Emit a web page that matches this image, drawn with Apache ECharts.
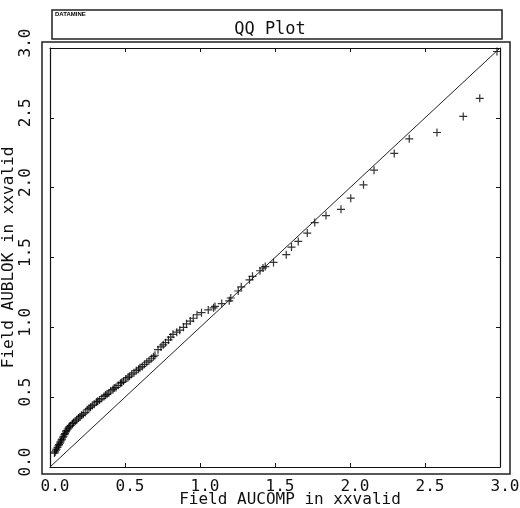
<!DOCTYPE html>
<html>
<head>
<meta charset="utf-8">
<script src="https://cdn.jsdelivr.net/npm/echarts@6/dist/echarts.min.js"></script>
<style>
  html, body { margin: 0; padding: 0; background: #fff; }
  #qqPlot { width: 520px; height: 508px; }
</style>
</head>
<body>
<div id="qqPlot"></div>
<script>
// quantiles of AUCOMP (x) against AUBLOK (y)
const xQuantiles = [
  0.03, 0.034, 0.04, 0.043, 0.05, 0.056, 0.06, 0.067, 0.07, 0.076, 0.08, 0.087, 0.09, 0.097,
  0.10, 0.106, 0.11, 0.118, 0.125, 0.13, 0.138, 0.15, 0.157, 0.168, 0.178, 0.19, 0.20,
  0.21, 0.222, 0.235, 0.248, 0.26, 0.27, 0.282, 0.295, 0.31, 0.318, 0.33, 0.345, 0.36, 0.37,
  0.38, 0.392, 0.405, 0.42, 0.428, 0.44, 0.455, 0.47, 0.478, 0.49, 0.505, 0.52, 0.53, 0.545,
  0.56, 0.575, 0.59, 0.6, 0.615, 0.63, 0.645, 0.66, 0.675, 0.69, 0.70,
  0.72, 0.74, 0.755, 0.77, 0.79, 0.805, 0.82, 0.845, 0.865, 0.89, 0.91, 0.935, 0.955, 0.98,
  1.01, 1.055, 1.09, 1.10, 1.145, 1.195, 1.205, 1.255, 1.275, 1.33, 1.35, 1.40, 1.42, 1.435,
  1.49, 1.575, 1.61, 1.655, 1.715, 1.765, 1.84, 1.94, 2.005, 2.09, 2.16, 2.295, 2.395,
  2.58, 2.755, 2.865, 2.98
]
const yQuantiles = [
  0.10, 0.108, 0.12, 0.128, 0.14, 0.152, 0.16, 0.171, 0.18, 0.192, 0.20, 0.213, 0.22, 0.232,
  0.24, 0.252, 0.26, 0.272, 0.28, 0.29, 0.298, 0.31, 0.318, 0.328, 0.338, 0.35, 0.36,
  0.37, 0.378, 0.39, 0.41, 0.42, 0.428, 0.44, 0.45, 0.465, 0.47, 0.48, 0.49, 0.505, 0.515,
  0.52, 0.53, 0.545, 0.555, 0.565, 0.57, 0.585, 0.6, 0.605, 0.615, 0.63, 0.64, 0.65, 0.665,
  0.675, 0.69, 0.70, 0.71, 0.72, 0.735, 0.75, 0.76, 0.775, 0.79, 0.80,
  0.84, 0.86, 0.875, 0.89, 0.91, 0.93, 0.95, 0.965, 0.98, 1.0, 1.025, 1.045, 1.065, 1.09,
  1.105, 1.125, 1.14, 1.15, 1.17, 1.19, 1.21, 1.26, 1.29, 1.34, 1.365, 1.405, 1.425, 1.435,
  1.465, 1.52, 1.575, 1.615, 1.675, 1.75, 1.80, 1.845, 1.925, 2.02, 2.125, 2.245, 2.35,
  2.395, 2.51, 2.64, 2.975
]
const refLine = [0, 3]
const axisTicks = [0, 0.5, 1.0, 1.5, 2.0, 2.5, 3.0]

const qqPlot = echarts.init(document.getElementById('qqPlot'))
const monoFont = 'DejaVu Sans Mono'
const plusSymbol = 'path://M-4,-0.6H4V0.6H-4Z M-0.6,-4H0.6V4H-0.6Z'

function getOption () {
  let points = xQuantiles.map((x, i) => [x, yQuantiles[i]])
  let axisBase = {
    type: 'value',
    min: axisTicks[0],
    max: axisTicks[axisTicks.length - 1],
    interval: axisTicks[1] - axisTicks[0],
    splitLine: { show: false },
    axisLine: { show: true, onZero: false, lineStyle: { color: '#111', width: 1.2 } },
    axisTick: { show: true, inside: true, length: 4, lineStyle: { color: '#111' } }
  }
  let labelStyle = {
    fontFamily: monoFont,
    fontSize: 16,
    color: '#111',
    padding: [0, 0, 0, 10],
    formatter: v => v.toFixed(1)
  }
  let option = {
    animation: false,
    backgroundColor: '#fff',
    grid: { left: 50, right: 20, top: 48, bottom: 41, containLabel: false, outerBoundsMode: 'none' },
    graphic: [
      { type: 'rect', shape: { x: 42, y: 42, width: 468, height: 432 }, style: { fill: 'none', stroke: '#222', lineWidth: 1.5 } },
      { type: 'rect', shape: { x: 52, y: 10, width: 450, height: 29 }, style: { fill: 'none', stroke: '#222', lineWidth: 1.5 } },
      { type: 'text', left: 55, top: 11, style: { text: 'DATAMINE', font: 'bold 6px Liberation Sans', fill: '#000' } },
      { type: 'text', x: 270, y: 30, style: { text: 'QQ Plot', font: '17px ' + monoFont, fill: '#111', textAlign: 'center', textVerticalAlign: 'middle' } }
    ],
    xAxis: [
      Object.assign({}, axisBase, {
        position: 'bottom',
        name: 'Field AUCOMP in xxvalid',
        nameLocation: 'middle',
        nameGap: 25,
        nameMoveOverlap: false,
        nameTextStyle: { fontFamily: monoFont, fontSize: 16, color: '#111', padding: [0, 0, 0, 30] },
        axisLabel: Object.assign({ margin: 12 }, labelStyle)
      }),
      Object.assign({}, axisBase, { position: 'top', axisLabel: { show: false } })
    ],
    yAxis: [
      Object.assign({}, axisBase, {
        position: 'left',
        name: 'Field AUBLOK in xxvalid',
        nameLocation: 'middle',
        nameRotate: 90,
        nameGap: 33,
        nameMoveOverlap: false,
        nameTextStyle: { fontFamily: monoFont, fontSize: 16, color: '#111' },
        axisLabel: Object.assign({ margin: 16, rotate: 90 }, labelStyle)
      }),
      Object.assign({}, axisBase, { position: 'right', axisLabel: { show: false } })
    ],
    series: [
      {
        type: 'line',
        data: [[refLine[0], refLine[0]], [refLine[1], refLine[1]]],
        showSymbol: false,
        lineStyle: { color: '#222', width: 1 },
        silent: true
      },
      {
        type: 'scatter',
        data: points,
        symbol: plusSymbol,
        symbolSize: 8,
        itemStyle: { color: '#000' }
      }
    ]
  }
  return option
}

qqPlot.setOption(getOption())
</script>
</body>
</html>
